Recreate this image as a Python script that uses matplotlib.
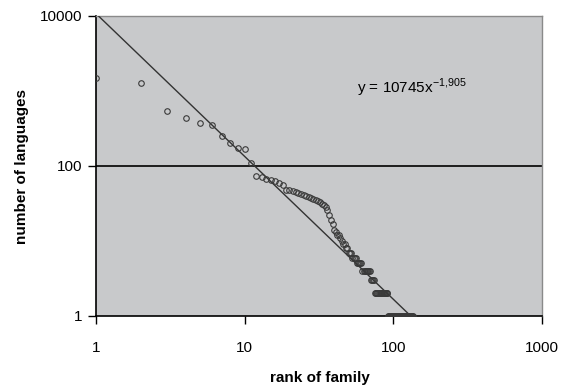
import numpy as np
import matplotlib.pyplot as plt

plt.rcParams['font.family'] = ['Liberation Sans', 'DejaVu Sans']

# language family sizes, ordered by rank
ranks = list(range(1, 136))
languages = ([1500, 1270, 540, 433, 378, 352, 254, 201, 175, 170,
              109, 74, 72, 66, 64, 62, 60, 56, 48, 47,
              46, 45, 43, 42, 41, 40, 38, 37, 36, 35,
              34, 33, 31, 30, 28, 26, 22, 19, 17, 14,
              13, 12, 12, 11, 10, 9, 9, 8, 8, 7,
              7, 7, 6, 6, 6, 6, 5, 5, 5, 5,
              5, 4, 4, 4, 4, 4, 4, 4, 4, 4,
              3, 3, 3, 3]
             + [2] * 17 + [1] * 44)

# power-law fit
coef = 10745
expo = -1.905
x_end = coef ** (-1 / expo)

xticks = [1, 10, 100, 1000]
yticks = [1, 100, 10000]

fig = plt.figure(figsize=(5.75, 3.89), dpi=100)
ax = fig.add_axes([0.167, 0.188, 0.7756, 0.771])
ax.set_facecolor('#c8c9cb')

fx = np.array([1, x_end])
ax.plot(fx, coef * fx ** expo, color='#333333', lw=1.0, zorder=3)
ax.plot(ranks, languages, 'o', ms=4, mfc='none', mec='#3a3a3a', mew=0.8, zorder=4)

ax.set_xscale('log')
ax.set_yscale('log')
ax.set_xlim(1, 1000)
ax.set_ylim(1, 10000)
ax.set_xticks(xticks)
ax.set_xticklabels([str(t) for t in xticks])
ax.set_yticks(yticks)
ax.set_yticklabels([str(t) for t in yticks])
ax.minorticks_off()
ax.tick_params(axis='both', direction='out', length=6, width=1, labelsize=11, color='black')
ax.tick_params(axis='x', pad=12)
ax.tick_params(axis='y', pad=4)

ax.axhline(100, color='black', lw=1.2, zorder=2)

for side in ['left', 'bottom']:
    ax.spines[side].set_color('black')
    ax.spines[side].set_linewidth(1.2)
for side in ['top', 'right']:
    ax.spines[side].set_color('#8a8a8a')
    ax.spines[side].set_linewidth(1.0)

fig.text(320 / 575, 1 - 378 / 389, 'rank of family', fontsize=11, fontweight='bold',
         ha='center', va='center')
fig.text(22 / 575, 1 - 167 / 389, 'number of languages', fontsize=11, fontweight='bold',
         rotation=90, ha='center', va='center')

ax.text(0.585, 0.76, r'y = 10745x$^{\mathregular{-1{,}905}}$', transform=ax.transAxes,
        fontsize=11, ha='left', va='center')

fig.savefig('out.png', dpi=100)
